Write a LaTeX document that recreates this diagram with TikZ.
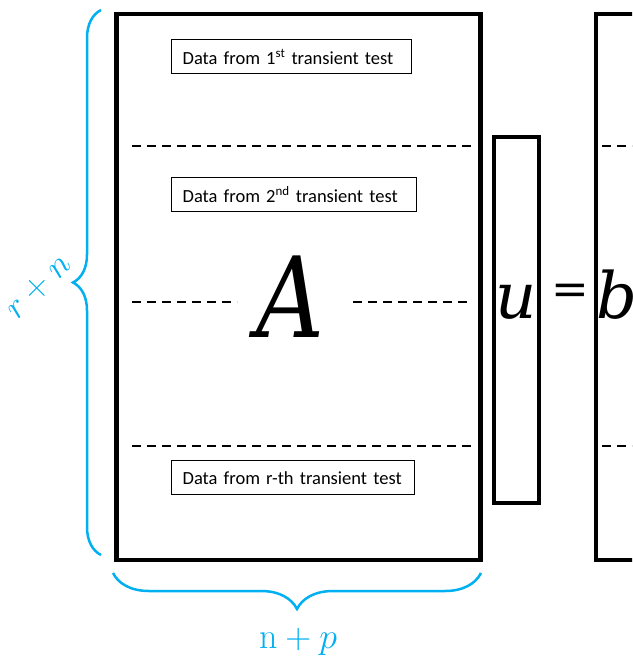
\documentclass[tikz,border=0pt]{standalone}
\usepackage{fix-cm}
\usepackage[no-math]{fontspec}
\setmainfont{Carlito}
\newfontfamily\letterfont{DejaVu Serif}
\usetikzlibrary{decorations.pathreplacing}
\definecolor{dimblue}{RGB}{0,176,240}

\tikzset{
  matbox/.style={draw=black, line width=4.5pt, rectangle, inner sep=0pt},
  vecbox/.style={draw=black, line width=4pt, rectangle, inner sep=0pt},
  rowsep/.style={draw=black, line width=1.8pt, dash pattern=on 9pt off 6pt},
  databox/.style={draw=black, line width=1.3pt, rectangle, anchor=north west,
    align=left, inner xsep=11pt, inner ysep=0pt, minimum height=34pt,
    font=\fontsize{18.5}{21}\selectfont},
  bigletter/.style={inner sep=0pt},
  dimbrace/.style={draw=dimblue, line width=2.5pt, decorate},
  dimlabel/.style={text=dimblue, inner sep=0pt}
}

\begin{document}
\begin{tikzpicture}[x=1pt, y=-1pt]
\useasboundingbox (0,0) rectangle (632,656);
\begin{scope}
\clip (0,0) rectangle (632,656);

% matrix A, vector u and the right-hand side b
\node[matbox, minimum width=364pt, minimum height=546pt] (A) at (298.5,287) {};
\node[vecbox, minimum width=45pt, minimum height=366pt] (u) at (516,319.5) {};
\node[matbox, minimum width=364pt, minimum height=546pt] (b) at (778,287) {};

% row blocks of A
\coordinate (r1l) at (132,146);   \coordinate (r1r) at (472,146);
\coordinate (r2l) at (132,302);   \coordinate (r2m) at (237,302);
\coordinate (r2n) at (353,302);   \coordinate (r2r) at (472,302);
\coordinate (r3l) at (132,446);   \coordinate (r3r) at (472,446);
\draw[rowsep] (r1l) -- (r1r);
\draw[rowsep] (r2l) -- (r2m);
\draw[rowsep] (r2n) -- (r2r);
\draw[rowsep] (r3l) -- (r3r);

% row blocks of b
\coordinate (b1l) at (602,146);   \coordinate (b1r) at (640,146);
\coordinate (b3l) at (602,446);   \coordinate (b3r) at (640,446);
\draw[rowsep] (b1l) -- (b1r);
\draw[rowsep] (b3l) -- (b3r);

% labels of the row blocks
\node[databox, text width=218pt] (t1) at (171,39) {Data from 1\textsuperscript{st} transient test};
\node[databox, text width=223pt] (t2) at (171,177) {Data from 2\textsuperscript{nd} transient test};
\node[databox, text width=221pt] (t3) at (171,460) {Data from r-th transient test};

% symbols of the equation
\node[bigletter, anchor=base, xscale=0.84, transform shape,
      font=\letterfont\itshape\fontsize{112}{112}\selectfont] (Asym) at (290,337) {A};
\node[bigletter, anchor=base, font=\letterfont\itshape\fontsize{64}{64}\selectfont] (usym) at (516,318) {u};
\node[bigletter, font=\letterfont\fontsize{45}{45}\selectfont] (eqsym) at (570,294.5) {=};
\node[bigletter, anchor=base west, font=\letterfont\itshape\fontsize{64}{64}\selectfont] (bsym) at (596,318) {b};
\end{scope}

% dimensions of A
\coordinate (lb1) at (101,555);  \coordinate (lb2) at (101,10);
\draw[dimbrace, decoration={brace, amplitude=28pt}] (lb1) -- (lb2);
\coordinate (bb1) at (481,573);  \coordinate (bb2) at (113,573);
\draw[dimbrace, decoration={brace, amplitude=36pt}] (bb1) -- (bb2);

\node[dimlabel, rotate=45, font=\fontsize{35}{35}\selectfont] (rowsdim) at (39,287) {$r+n$};
\node[dimlabel, anchor=base, font=\fontsize{36}{36}\selectfont] (colsdim) at (298,648) {$\mathrm{n}+p$};
\end{tikzpicture}
\end{document}
